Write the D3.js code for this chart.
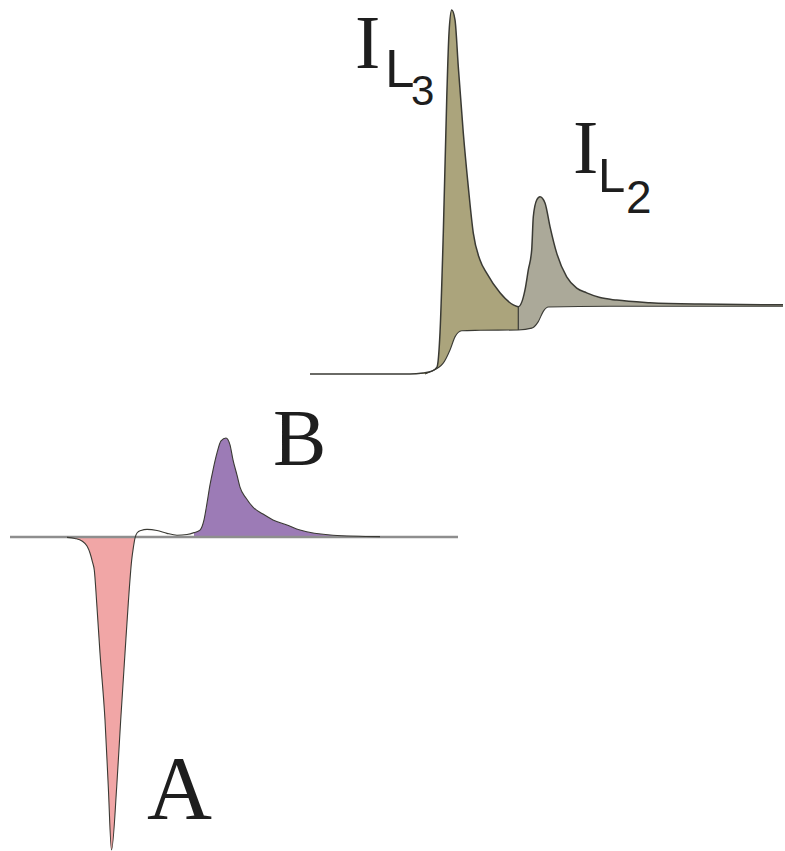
<!DOCTYPE html>
<html>
<head>
<meta charset="utf-8">
<script src="https://cdn.jsdelivr.net/npm/d3@7/dist/d3.min.js"></script>
<style>
  html, body { margin: 0; padding: 0; background: #ffffff; }
  svg { display: block; }
</style>
</head>
<body>
<svg id="chart" width="785" height="851"></svg>
<script>
// ---- Absorption spectrum (L3 / L2 edges): photon energy (eV) vs intensity ----
const xasEnergy = [700.0, 707.0, 710.0, 711.3, 712.2, 712.7, 713.0, 713.33, 713.67, 713.9, 714.17,
  714.5, 714.83, 715.33, 715.83, 716.33, 717.0, 717.67, 719.0, 720.33, 720.83,
  721.5, 721.83, 722.17, 722.33, 722.67, 723.0, 723.5, 724.0, 724.67, 725.67,
  726.67, 727.67, 729.0, 730.67, 734.0, 739.0, 747.3];
const xasIntensity = [0, 0, 0, 0.3, 0.8, 1.9, 11.3, 38.7, 75.3, 93.7, 100,
  97.3, 84.4, 66.2, 51.4, 38.7, 31.3, 27.7, 22.3, 19.0, 18.5,
  23.1, 28.6, 34.1, 43.2, 47.8, 48.7, 47.0, 40.5, 33.2, 26.7,
  23.6, 22.3, 21.0, 20.3, 19.6, 19.2, 19.0];

// Two-step edge background beneath the white lines
const stepEnergy = [700.0, 711.5, 712.0, 713.3, 714.0, 714.5, 715.17, 717.0, 720.83,
  722.17, 722.83, 723.33, 723.83, 730.0, 747.3];
const stepIntensity = [0, 0, 0.6, 2.9, 6.6, 10.2, 11.9, 12.0, 12.1,
  12.6, 14.4, 17.2, 18.4, 18.6, 18.6];

// Boundary between the L3 and L2 contributions
const edgeSplitEnergy = 720.83;
const edgeSplitStep = 12.1;
const edgeSplitCurve = 18.5;

// ---- Dichroism spectrum (difference signal) ----
const xmcdEnergy = [700.0, 704.0, 705.7, 706.5, 707.2, 707.7, 708.0, 708.25, 708.43, 708.67,
  709.0, 709.5, 709.83, 710.15, 710.67, 711.07, 711.5, 711.83, 712.17, 712.33,
  712.5, 712.7, 713.1, 713.7, 714.7, 715.7, 716.7, 717.7, 718.4, 719.0,
  719.4, 719.7, 720.0, 720.3, 720.7, 721.1, 721.6, 722.0, 722.3, 722.7,
  723.0, 723.6, 724.3, 725.3, 726.3, 727.7, 729.0, 732.3, 737.0, 744.8];
const xmcdIntensity = [0, 0, -0.1, -0.4, -1.1, -2.5, -4.4, -6.9, -9.1, -18.1,
  -31.9, -50.3, -68.7, -86.0, -68.7, -50.3, -31.9, -18.1, -6.3, -3.0,
  -0.3, 1.1, 1.8, 2.1, 1.8, 1.0, 0.5, 0.7, 1.2, 1.9,
  4.7, 9.3, 14.3, 18.4, 23.1, 26.4, 27.2, 25.3, 21.2, 17.0,
  13.7, 10.7, 8.2, 6.3, 4.7, 3.3, 1.9, 0.5, 0.1, 0];

// Energy ranges of the negative (A) and positive (B) lobes
const lobeA = [705.0, 712.5];
const lobeB = [718.4, 744.8];

// Labels
const edgeLabels = [
  { main: "I", sub: "L", index: "3" },
  { main: "I", sub: "L", index: "2" }
];
const lobeLabels = ["A", "B"];

const colors = {
  l3: "#aba47c",
  l2: "#aba999",
  a: "#f1a6a6",
  b: "#9c7bb6",
  line: "#3a3a34",
  axis: "#8e8e8e"
};

const svg = d3.select("#chart");
const defs = svg.append("defs");

// ---------- upper panel ----------
const xTop = d3.scaleLinear().domain([700, 747.3]).range([310, 783]);
const yTop = d3.scaleLinear().domain([0, 100]).range([374, 10]);

const xas = xasEnergy.map((e, i) => ({ e, v: xasIntensity[i] }));
const step = stepEnergy.map((e, i) => ({ e, v: stepIntensity[i] }));

const areaTop = d3.area().curve(d3.curveMonotoneX)
  .x(d => xTop(d.e)).y0(yTop(0)).y1(d => yTop(d.v));
const lineTop = d3.line().curve(d3.curveMonotoneX)
  .x(d => xTop(d.e)).y(d => yTop(d.v));

defs.append("clipPath").attr("id", "clipL3").append("rect")
  .attr("x", 0).attr("y", 0)
  .attr("width", xTop(edgeSplitEnergy)).attr("height", 851);
defs.append("clipPath").attr("id", "clipL2").append("rect")
  .attr("x", xTop(edgeSplitEnergy)).attr("y", 0)
  .attr("width", 785 - xTop(edgeSplitEnergy)).attr("height", 851);

const gTop = svg.append("g");
gTop.append("path").datum(xas).attr("d", areaTop)
  .attr("fill", colors.l3).attr("clip-path", "url(#clipL3)");
gTop.append("path").datum(xas).attr("d", areaTop)
  .attr("fill", colors.l2).attr("clip-path", "url(#clipL2)");
// blank out the region beneath the edge-step background
gTop.append("path").datum(step).attr("d", areaTop).attr("fill", "#ffffff");
gTop.append("path").datum(step.filter(d => d.e >= 711)).attr("d", lineTop)
  .attr("fill", "none").attr("stroke", colors.line).attr("stroke-width", 1.1);
gTop.append("line")
  .attr("x1", xTop(edgeSplitEnergy)).attr("x2", xTop(edgeSplitEnergy))
  .attr("y1", yTop(edgeSplitStep)).attr("y2", yTop(edgeSplitCurve))
  .attr("stroke", colors.line).attr("stroke-width", 1.2);
gTop.append("path").datum(xas).attr("d", lineTop)
  .attr("fill", "none").attr("stroke", colors.line).attr("stroke-width", 1.5);

// ---------- lower panel ----------
const xBot = d3.scaleLinear().domain([700, 744.8]).range([10, 458]);
const yBot = d3.scaleLinear().domain([0, 100]).range([537, 173]);

const xmcd = xmcdEnergy.map((e, i) => ({ e, v: xmcdIntensity[i] }));
const areaBot = d3.area().curve(d3.curveMonotoneX)
  .x(d => xBot(d.e)).y0(yBot(0)).y1(d => yBot(d.v));
const lineBot = d3.line().curve(d3.curveMonotoneX)
  .x(d => xBot(d.e)).y(d => yBot(d.v));

defs.append("clipPath").attr("id", "clipA").append("rect")
  .attr("x", xBot(lobeA[0])).attr("y", 0)
  .attr("width", xBot(lobeA[1]) - xBot(lobeA[0])).attr("height", 851);
defs.append("clipPath").attr("id", "clipB").append("rect")
  .attr("x", xBot(lobeB[0])).attr("y", 0)
  .attr("width", xBot(lobeB[1]) - xBot(lobeB[0])).attr("height", 851);

const gBot = svg.append("g");
gBot.append("path").datum(xmcd).attr("d", areaBot)
  .attr("fill", colors.a).attr("clip-path", "url(#clipA)");
gBot.append("path").datum(xmcd).attr("d", areaBot)
  .attr("fill", colors.b).attr("clip-path", "url(#clipB)");
gBot.append("line")
  .attr("x1", xBot(700)).attr("x2", xBot(744.8))
  .attr("y1", yBot(0)).attr("y2", yBot(0))
  .attr("stroke", colors.axis).attr("stroke-width", 2.4);
gBot.append("path").datum(xmcd.filter(d => d.e >= 705 && d.e <= 737)).attr("d", lineBot)
  .attr("fill", "none").attr("stroke", colors.line).attr("stroke-width", 1.1);

// ---------- labels ----------
const serif = "'Liberation Serif', 'Times New Roman', serif";
const sans = "'Liberation Sans', Arial, sans-serif";

const labelPos = [
  { x: 355, y: 68, lx: 385, ly: 87, ix: 411, iy: 105, subSize: 53, idxSize: 42 },
  { x: 573, y: 173, lx: 598, ly: 192, ix: 626, iy: 213, subSize: 49, idxSize: 46 }
];
edgeLabels.forEach((lab, i) => {
  const p = labelPos[i];
  const g = svg.append("g").attr("fill", "#1e1e1e");
  g.append("text").attr("x", p.x).attr("y", p.y)
    .attr("font-family", serif).attr("font-size", 76).text(lab.main);
  g.append("text").attr("x", p.lx).attr("y", p.ly)
    .attr("font-family", sans).attr("font-size", p.subSize).text(lab.sub);
  g.append("text").attr("x", p.ix).attr("y", p.iy)
    .attr("font-family", sans).attr("font-size", p.idxSize).text(lab.index);
});

svg.append("text").attr("x", 147).attr("y", 819)
  .attr("font-family", serif).attr("font-size", 90).attr("fill", "#1e1e1e")
  .text(lobeLabels[0]);
svg.append("text").attr("x", 273).attr("y", 465)
  .attr("font-family", serif).attr("font-size", 80).attr("fill", "#1e1e1e")
  .text(lobeLabels[1]);
</script>
</body>
</html>
